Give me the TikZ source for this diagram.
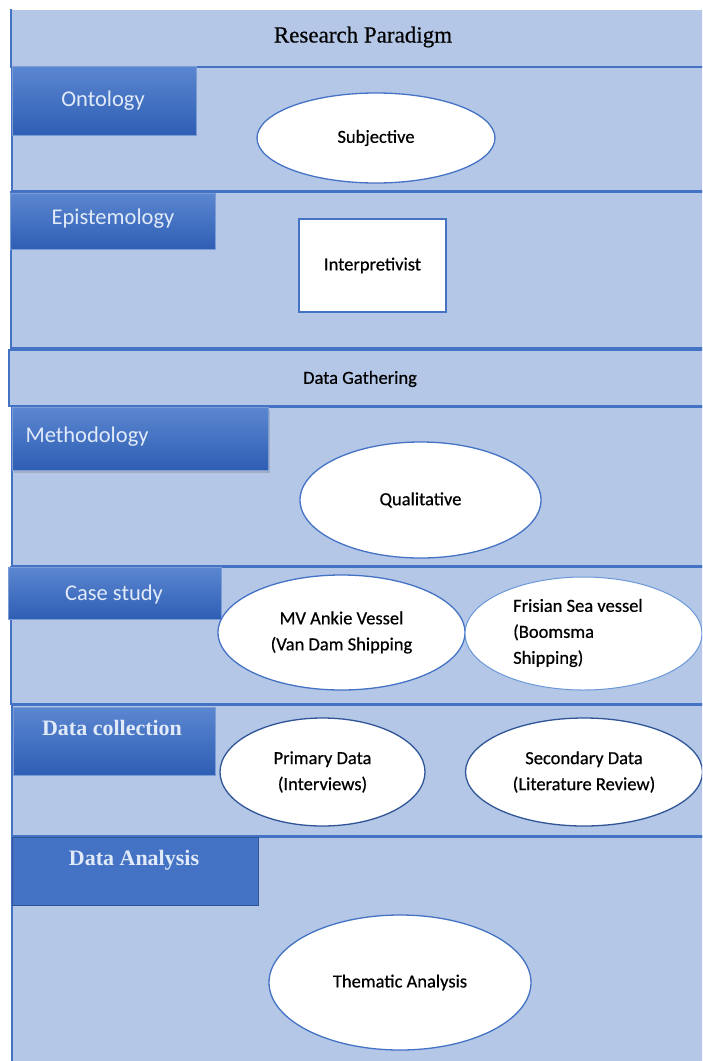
\documentclass[tikz,border=0pt]{standalone}
\usepackage{fontspec}
\setmainfont{Carlito}
\newfontfamily\timesx{Liberation Serif}
\newfontfamily\timesheavy{Liberation Serif}[FakeBold=0.5]
\newfontfamily\bodyf{Carlito}[FakeBold=0.5]
\usetikzlibrary{shapes.geometric,shadows}
\definecolor{bandfill}{HTML}{B4C7E7}
\definecolor{bandline}{HTML}{4472C4}
\definecolor{labtop}{HTML}{5B86D0}
\definecolor{labbot}{HTML}{2E5EB4}
\definecolor{labtext}{HTML}{E1EAF8}
\definecolor{darkline}{HTML}{2F5597}
\definecolor{lightline}{HTML}{6A98D8}
\begin{document}
\begin{tikzpicture}[x=1pt,y=-1pt,
 band/.style={draw=bandline, fill=bandfill, line width=1.6pt, anchor=north west, inner sep=0},
 labelbox/.style={draw=bandline!70!white, line width=0.8pt, top color=labtop, bottom color=labbot, anchor=north west, inner sep=0},
 labeltext/.style={text=labtext, font=\fontsize{22.5}{26}\selectfont},
 serlabel/.style={text=labtext, font=\timesx\bfseries\fontsize{22}{26}\selectfont},
 oval/.style={ellipse, draw=bandline, fill=white, line width=1.3pt, inner sep=0, align=center, font=\bodyf\fontsize{18.5}{26}\selectfont},
 body/.style={font=\bodyf\fontsize{18.5}{26}\selectfont},
]
\clip (0,0) rectangle (702,1061);
\fill[white] (0,0) rectangle (702,1061);

% bands
\node[band, draw=none, minimum width=710pt, minimum height=57pt] (b1) at (11,9) {};
\draw[bandline, line width=1.6pt] (b1.north west) -- (b1.south west);
\node[band, minimum width=710pt, minimum height=124pt] (b2) at (11,66) {};
\node[band, minimum width=710pt, minimum height=156pt] (b3) at (10,191) {};
\node[band, minimum width=710pt, minimum height=56pt] (b4) at (8,349) {};
\node[band, minimum width=710pt, minimum height=159pt] (b5) at (11,406) {};
\node[band, minimum width=710pt, minimum height=137pt] (b6) at (10,566) {};
\node[band, line width=2pt, minimum width=710pt, minimum height=131pt] (b7) at (11,704) {};
\node[band, minimum width=710pt, minimum height=240pt] (b8) at (11,836) {};

% title and section headings
\node[font=\timesheavy\fontsize{23}{28}\selectfont] (title) at (363,37) {Research Paradigm};
\node[body] (gather) at (360,379) {Data Gathering};

% label boxes
\node[labelbox, minimum width=184pt, minimum height=69pt] (onto) at (12,66) {};
\node[labeltext] (ontot) at (103,101) {Ontology};
\node[labelbox, minimum width=205pt, minimum height=56pt] (epis) at (10,193) {};
\node[labeltext] (epist) at (113,219) {Epistemology};
\node[labelbox, minimum width=256pt, minimum height=63pt, drop shadow={shadow xshift=2pt, shadow yshift=-3pt, opacity=0.35}] (meth) at (12,407) {};
\node[labeltext, anchor=west] (metht) at (22,437) {Methodology};
\node[labelbox, minimum width=213pt, minimum height=52pt] (case) at (8,567) {};
\node[labeltext] (caset) at (114,594) {Case study};
\node[labelbox, minimum width=202pt, minimum height=68pt] (coll) at (13,707) {};
\node[serlabel] (collt) at (112,728) {Data collection};
\node[anchor=north west, inner sep=0, fill=bandline, draw=darkline, line width=1pt, minimum width=246pt, minimum height=68pt] (anal) at (12,837) {};
\node[serlabel] (analt) at (134,860) {Data Analysis};

% content shapes
\node[oval, minimum width=238pt, minimum height=90pt] (subj) at (376,138) {Subjective};
\node[draw=bandline, fill=white, line width=1.3pt, minimum width=147pt, minimum height=93pt, inner sep=0, body] (interp) at (372.5,265.5) {Interpretivist};
\node[oval, minimum width=241pt, minimum height=116pt] (qual) at (420.5,500) {Qualitative};
\node[oval, minimum width=247pt, minimum height=115pt] (mv) at (341.5,632.5) {MV Ankie Vessel\\(Van Dam Shipping};
\node[oval, draw=lightline, line width=1pt, minimum width=237pt, minimum height=113pt] (fris) at (583.5,633.5) {};
\node[body, anchor=west, align=left, inner sep=0] (frist) at (513,633) {Frisian Sea vessel\\(Boomsma\\Shipping)};
\node[oval, draw=darkline, minimum width=205pt, minimum height=108pt] (prim) at (322.5,772) {Primary Data\\(Interviews)};
\node[oval, draw=darkline, minimum width=237pt, minimum height=108pt] (sec) at (584,772) {Secondary Data\\(Literature Review)};
\node[oval, minimum width=262pt, minimum height=135pt] (them) at (400,982.5) {Thematic Analysis};
\end{tikzpicture}
\end{document}
